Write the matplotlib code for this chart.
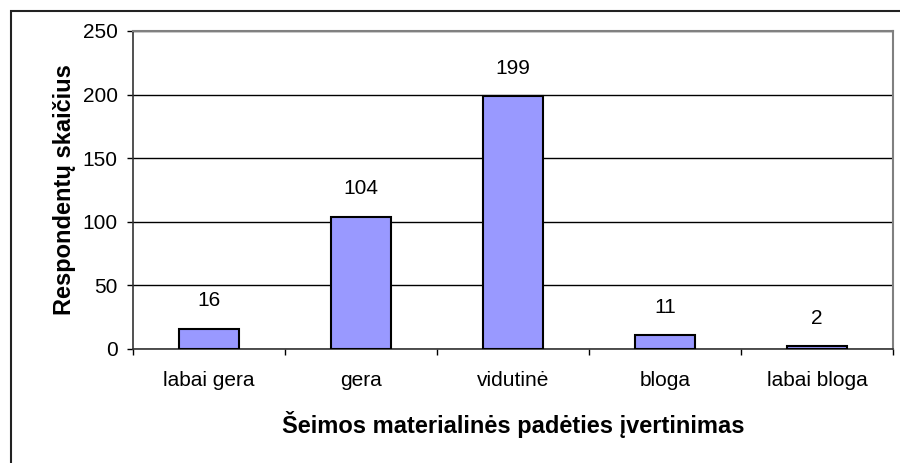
import matplotlib.pyplot as plt
from matplotlib.patches import Rectangle

categories = ['labai gera', 'gera', 'vidutinė', 'bloga', 'labai bloga']
counts = [16, 104, 199, 11, 2]

plt.rcParams['font.family'] = ['Liberation Sans', 'DejaVu Sans']

W, H = 900, 463
fig = plt.figure(figsize=(9, 4.63), dpi=100)
ax = fig.add_axes([133 / W, 1 - 349 / H, (893 - 133) / W, (349 - 31) / H])

x = list(range(len(categories)))
ax.bar(x, counts, width=0.4, color='#9999FF', edgecolor='black', linewidth=1.5, zorder=3)
for xi, v in zip(x, counts):
    ax.annotate(str(v), (xi, v), xytext=(0, 16), textcoords='offset points',
                ha='center', va='baseline', fontsize=15)

ax.set_xlim(-0.5, len(categories) - 0.5)
ax.set_ylim(0, 250)
ax.set_yticks(range(0, 251, 50))
ax.yaxis.grid(True, color='black', linewidth=1)
ax.set_axisbelow(True)

ax.set_xticks([i - 0.5 for i in range(len(categories) + 1)])
ax.set_xticklabels([])
ax.set_xticks(x, minor=True)
ax.set_xticklabels(categories, minor=True, fontsize=15)
ax.tick_params(axis='x', which='minor', length=0, pad=16)
ax.tick_params(axis='x', which='major', length=4, width=1, direction='out')
ax.tick_params(axis='y', length=4, width=1, direction='out', labelsize=15, pad=7)

for s in ['left', 'bottom']:
    ax.spines[s].set_color('#333333')
    ax.spines[s].set_linewidth(1.2)
for s in ['top', 'right']:
    ax.spines[s].set_color('#808080')
    ax.spines[s].set_linewidth(1.5)

ax.set_ylabel('Respondentų skaičius', fontsize=17, fontweight='bold', labelpad=5)
ax.set_xlabel('Šeimos materialinės padėties įvertinimas', fontsize=17, fontweight='bold', labelpad=15)

# outer chart frame (extends past the image edge, as in the original)
fig.patches.append(Rectangle((11 / W, -0.1), 1.2, 1 - 11 / H + 0.1, transform=fig.transFigure,
                             fill=False, edgecolor='#222222', linewidth=1.5))

fig.savefig('out.png', dpi=100)
